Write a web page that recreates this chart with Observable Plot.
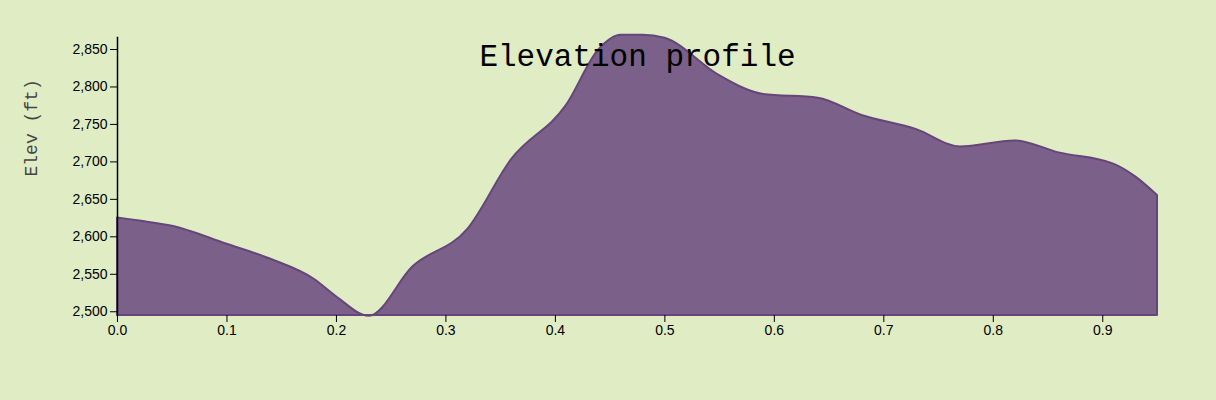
<!DOCTYPE html>
<html>
<head>
<meta charset="utf-8">
<script src="https://cdn.jsdelivr.net/npm/d3@7"></script>
<script src="https://cdn.jsdelivr.net/npm/@observablehq/plot@0.6"></script>
<style>
  body { margin: 0; background: #dfecc4; }
</style>
</head>
<body>
<div id="chart"></div>
<script>
const dist = [0, 0.025, 0.05, 0.1, 0.14, 0.18, 0.2, 0.23, 0.27, 0.32, 0.36, 0.41, 0.44, 0.46, 0.48, 0.5, 0.55, 0.59, 0.64, 0.68, 0.73, 0.77, 0.82, 0.86, 0.91, 0.93, 0.95]
const elev = [2625, 2620, 2614, 2590, 2570, 2543, 2520, 2494, 2560, 2610, 2703, 2775, 2850, 2869, 2869, 2865, 2815, 2790, 2785, 2762, 2743, 2720, 2728, 2712, 2697, 2680, 2655]
const baseline = 2495
const xTicks = [0, 0.1, 0.2, 0.3, 0.4, 0.5, 0.6, 0.7, 0.8, 0.9]
const yTicks = [2500, 2550, 2600, 2650, 2700, 2750, 2800, 2850]

const data = dist.map((d, i) => ({dist: d, elev: elev[i]}))

let chart = Plot.plot({
  width: 1216,
  height: 400,
  marginLeft: 117,
  marginRight: 59,
  marginTop: 37,
  marginBottom: 85,
  style: {backgroundColor: '#dfecc4', color: 'black', fontFamily: 'Liberation Sans, Arial'},
  x: {domain: [0, 0.95], label: null},
  y: {domain: [baseline, 2866], label: null},
  marks: [
    Plot.areaY(data, {x: 'dist', y1: baseline, y2: 'elev', curve: 'monotone-x', fill: '#7b6189', stroke: '#65457a', strokeWidth: 2}),
    Plot.axisX({ticks: xTicks, tickFormat: d3.format('.1f'), tickSize: 7, fontSize: 14, label: null, stroke: 'black'}),
    Plot.axisY({ticks: yTicks, tickSize: 7, fontSize: 14, label: null}),
    Plot.frame({anchor: 'left', stroke: 'black', strokeWidth: 1.5}),
    Plot.text(['Elevation profile'], {frameAnchor: 'top', dy: 6, fontFamily: 'Liberation Mono, Courier New, monospace', fontSize: 31, fontWeight: 300}),
    Plot.text(['Elev (ft)'], {frameAnchor: 'left', dx: -86, dy: 0, rotate: -90, fontFamily: 'Liberation Mono, Courier New, monospace', fontSize: 18, fill: '#444'})
  ]
})

d3.select('#chart').append(() => chart)
</script>
</body>
</html>
